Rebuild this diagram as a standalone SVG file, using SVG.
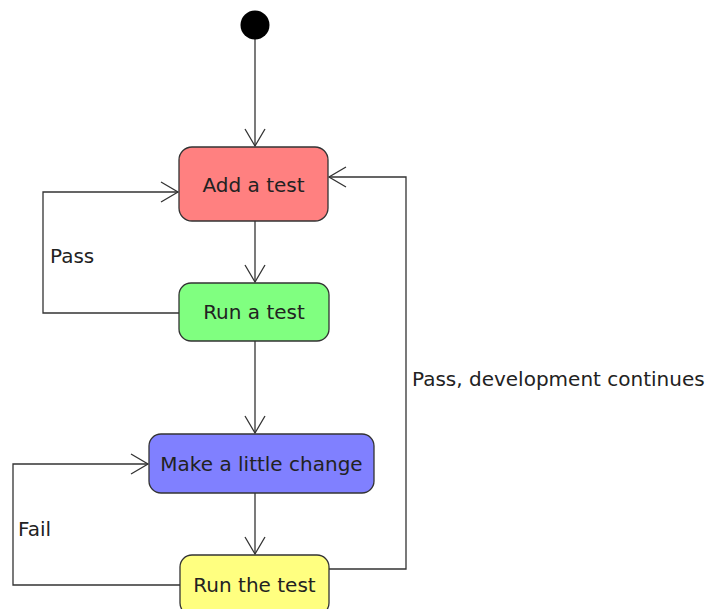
<svg xmlns="http://www.w3.org/2000/svg" width="710" height="609" viewBox="0 0 710 609">
<style>
.box{stroke:#333;stroke-width:1.3}
.lbl{font-family:"DejaVu Sans","Liberation Sans",sans-serif;font-size:20px;fill:#222}
.c{text-anchor:middle}
.edge{fill:none;stroke:#333;stroke-width:1.3}
</style>
<defs>
<marker id="open" markerUnits="userSpaceOnUse" markerWidth="24" markerHeight="24" viewBox="-20 -12 24 24" refX="0" refY="0" orient="auto">
<path d="M-17,-10 L0,0 L-17,10" fill="none" stroke="#333" stroke-width="1.3"/>
</marker>
</defs>
<rect width="710" height="609" fill="#fff"/>
<g id="connectors">
<path class="edge" d="M255,39 L255,146" marker-end="url(#open)"/>
<path class="edge" d="M255,221 L255,282" marker-end="url(#open)"/>
<path class="edge" d="M255,341 L255,433" marker-end="url(#open)"/>
<path class="edge" d="M255,493 L255,554" marker-end="url(#open)"/>
<path class="edge" d="M179,313 L43,313 L43,192 L178,192" marker-end="url(#open)"/>
<path class="edge" d="M180,585 L13,585 L13,464 L148,464" marker-end="url(#open)"/>
<path class="edge" d="M329,569 L406,569 L406,177 L329,177" marker-end="url(#open)"/>
<text class="lbl" x="50" y="263">Pass</text>
<text class="lbl" x="18" y="536">Fail</text>
<text class="lbl" x="412" y="386">Pass, development continues</text>
</g>
<g id="start">
<circle cx="255" cy="25" r="14.5" fill="#000"/>
</g>
<g id="add-test">
<rect class="box" x="179" y="147" width="149" height="74" rx="13" fill="#FF8080"/>
<text class="lbl c" x="253.5" y="192">Add a test</text>
</g>
<g id="run-a-test">
<rect class="box" x="179" y="283" width="150" height="58" rx="12" fill="#80FF80"/>
<text class="lbl c" x="254" y="319">Run a test</text>
</g>
<g id="make-change">
<rect class="box" x="149" y="434" width="225" height="59" rx="12" fill="#8080FF"/>
<text class="lbl c" x="261.5" y="471">Make a little change</text>
</g>
<g id="run-the-test">
<rect class="box" x="180" y="555" width="149" height="60" rx="12" fill="#FFFF80"/>
<text class="lbl c" x="254.5" y="592">Run the test</text>
</g>
</svg>
